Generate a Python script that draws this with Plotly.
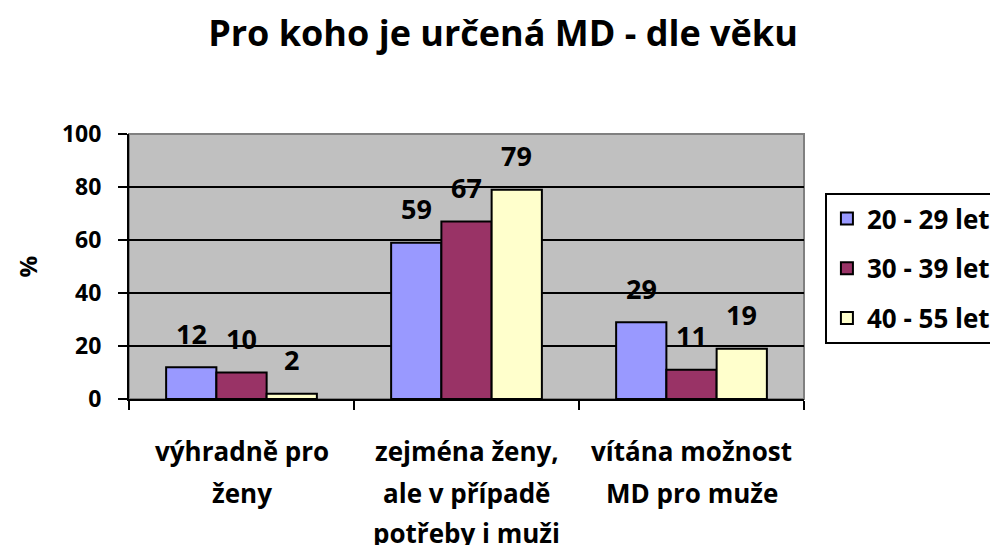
import plotly.graph_objects as go

categories = ["výhradně pro ženy", "zejména ženy, ale v případě potřeby i muži", "vítána možnost MD pro muže"]
category_lines = [["výhradně pro", "ženy"], ["zejména ženy,", "ale v případě", "potřeby i muži"], ["vítána možnost", "MD pro muže"]]
series_names = ["20 - 29 let", "30 - 39 let", "40 - 55 let"]
values_20_29 = [12, 59, 29]
values_30_39 = [10, 67, 11]
values_40_55 = [2, 79, 19]
series_values = [values_20_29, values_30_39, values_40_55]
colors = ["#9999FF", "#993366", "#FFFFCC"]
y_ticks = [0, 20, 40, 60, 80, 100]

FONT = "Open Sans"
BARGAP = 0.33
W, H = 990, 537  # page body has an 8px margin

fig = go.Figure()
for i, (name, vals) in enumerate(zip(series_names, series_values)):
    fig.add_trace(go.Bar(
        x=categories, y=vals, name=f"<b>{name}</b>", legendgroup=name,
        marker=dict(color=colors[i], line=dict(color="black", width=2)),
        hoverinfo="skip",
    ))

annotations = []
w = (1 - BARGAP) / 3
for i, vals in enumerate(series_values):
    for j, v in enumerate(vals):
        annotations.append(dict(
            x=j + (i - 1) * w, y=v, xref="x", yref="y", text=f"<b>{v}</b>",
            showarrow=False, yanchor="middle", yshift=34,
            font=dict(family=FONT, size=27, color="black"),
        ))
line_shifts = [-52, -94, -134]
for j, lines in enumerate(category_lines):
    for k, ln in enumerate(lines):
        annotations.append(dict(
            x=categories[j], y=0, xref="x", yref="paper", text=f"<b>{ln}</b>",
            showarrow=False, yanchor="middle", yshift=line_shifts[k],
            font=dict(family=FONT, size=26, color="black"),
        ))
annotations.append(dict(
    x=-0.151, y=0.5, xref="paper", yref="paper", text="<b>%</b>", textangle=-90,
    showarrow=False, xanchor="center", yanchor="middle",
    font=dict(family=FONT, size=24, color="black"),
))

fig.update_layout(
    width=W, height=H,
    margin=dict(l=121, r=194, t=126, b=146, autoexpand=False),
    paper_bgcolor="white", plot_bgcolor="#C0C0C0",
    barmode="group", bargap=BARGAP, bargroupgap=0,
    title=dict(text="<b>Pro koho je určená MD - dle věku</b>", x=0.5, xanchor="center",
               y=1 - 25 / H, yanchor="middle", yref="container",
               font=dict(family=FONT, size=36, color="black")),
    font=dict(family=FONT, color="black"),
    legend=dict(x=1.031, xanchor="left", y=0.777, yanchor="top",
                bgcolor="white", bordercolor="black", borderwidth=2,
                font=dict(family=FONT, size=26, color="black"),
                tracegroupgap=13, traceorder="grouped"),
    annotations=annotations,
    shapes=[dict(type="rect", xref="paper", yref="paper", x0=0, x1=1, y0=0, y1=1,
                 line=dict(color="#808080", width=2), layer="below")],
    showlegend=True,
)
fig.update_xaxes(showticklabels=False, ticks="outside", tickson="boundaries",
                 ticklen=9, tickwidth=2, tickcolor="black",
                 showline=True, linecolor="black", linewidth=2, showgrid=False)
fig.update_yaxes(range=[0, 100], tickvals=y_ticks, ticks="outside", ticklen=9,
                 tickwidth=2, tickcolor="black", showline=True, linecolor="black",
                 linewidth=2, showgrid=True, gridcolor="black", gridwidth=2,
                 zeroline=False, ticklabelstandoff=12,
                 tickfont=dict(family=FONT, size=23, color="black", weight="bold"))

fig.write_html("out.html")
